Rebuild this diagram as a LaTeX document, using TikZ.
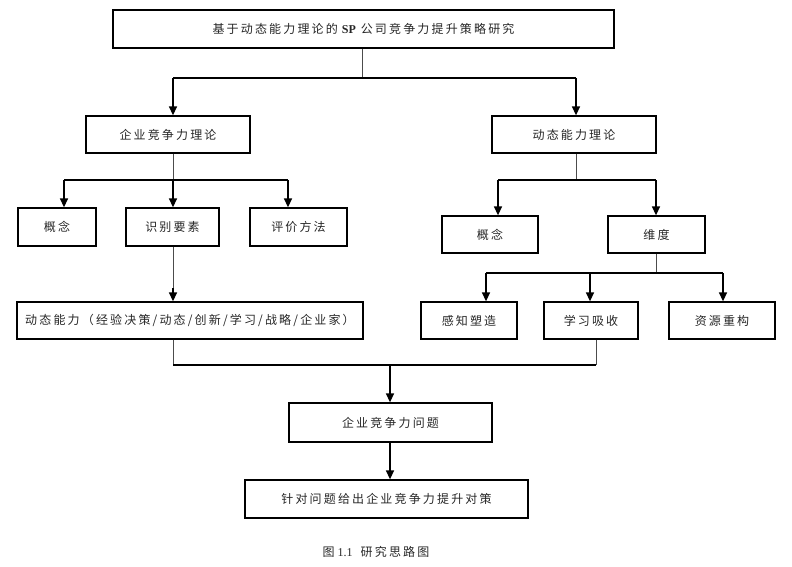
\documentclass[tikz,border=0pt]{standalone}
\usepackage{fontspec}
\setmainfont{Liberation Serif}
\newfontfamily\cjk[LetterSpace=18]{Noto Sans CJK SC}
\usetikzlibrary{arrows.meta}
\begin{document}
\begin{tikzpicture}[x=1pt,y=1pt,
  box/.style={draw=black, line width=1.3pt, inner sep=0pt, font=\fontsize{12}{14}\cjk, text=black!85},
  stem/.style={draw=black!70, line width=1pt},
  bar/.style={draw=black, line width=1.7pt},
  arr/.style={draw=black, line width=1.4pt, -{Triangle[length=9pt,width=8pt]}}]
\useasboundingbox (0,0) rectangle (792,-567);
% boxes
\node[box, line width=1.8pt, minimum width=501, minimum height=38] (top) at (363.5,-29) {基于动态能力理论的\hspace{4pt}{\fontspec{Liberation Serif}\bfseries SP}\hspace{5pt}公司竞争力提升策略研究};
\node[box, minimum width=164, minimum height=37] (qj) at (168,-134.5) {企业竞争力理论};
\node[box, minimum width=164, minimum height=37] (dt) at (574,-134.5) {动态能力理论};
\node[box, minimum width=78, minimum height=38] (gn1) at (57,-227) {概念};
\node[box, minimum width=93, minimum height=38] (sb) at (172.5,-227) {识别要素};
\node[box, minimum width=97, minimum height=38] (pj) at (298.5,-227) {评价方法};
\node[box, minimum width=96, minimum height=37] (gn2) at (490,-234.5) {概念};
\node[box, minimum width=97, minimum height=37] (wd) at (656.5,-234.5) {维度};
\node[box, minimum width=96, minimum height=37] (gz) at (469,-320.5) {感知塑造};
\node[box, minimum width=94, minimum height=37] (xx) at (591,-320.5) {学习吸收};
\node[box, minimum width=106, minimum height=37] (zy) at (722,-320.5) {资源重构};
\node[box, minimum width=346, minimum height=37] (dn) at (190,-320.5) {动态能力（经验决策/动态/创新/学习/战略/企业家）};
\node[box, minimum width=203, minimum height=39] (wt) at (390.5,-422.5) {企业竞争力问题};
\node[box, minimum width=283, minimum height=38] (dc) at (386.5,-499) {针对问题给出企业竞争力提升对策};
\node[font=\fontsize{12}{14}\selectfont, text=black!85] (cap) at (376,-552) {{\cjk 图}\hspace{3pt}1.1\hspace{8pt}{\cjk 研究思路图}};
% junction coordinates
\coordinate (a1) at (173,-78);  \coordinate (a2) at (576,-78);
\coordinate (b1) at (64,-180);  \coordinate (b2) at (173,-180); \coordinate (b3) at (288,-180);
\coordinate (c1) at (498,-180); \coordinate (c2) at (576,-180); \coordinate (c3) at (656,-180);
\coordinate (d1) at (486,-273); \coordinate (d2) at (590,-273); \coordinate (d3) at (656,-273); \coordinate (d4) at (723,-273);
\coordinate (e1) at (173,-365); \coordinate (e2) at (390,-365); \coordinate (e3) at (596,-365);
% level 1
\draw[stem] (top.south -| 362,0) -- (362,-78);
\draw[bar] (a1) -- (a2);
\draw[arr] (a1) -- (a1 |- qj.north);
\draw[arr] (a2) -- (a2 |- dt.north);
% level 2 left
\draw[stem] (b2 |- qj.south) -- (b2);
\draw[bar] (b1) -- (b3);
\draw[arr] (b1) -- (b1 |- gn1.north);
\draw[arr] (b2) -- (b2 |- sb.north);
\draw[arr] (b3) -- (b3 |- pj.north);
% level 2 right
\draw[stem] (c2 |- dt.south) -- (c2);
\draw[bar] (c1) -- (c3);
\draw[arr] (c1) -- (c1 |- gn2.north);
\draw[arr] (c3) -- (c3 |- wd.north);
% level 3 right
\draw[stem] (d3 |- wd.south) -- (d3);
\draw[bar] (d1) -- (d4);
\draw[arr] (d1) -- (d1 |- gz.north);
\draw[arr] (d2) -- (d2 |- xx.north);
\draw[arr] (d4) -- (d4 |- zy.north);
% left down
\draw[stem] (b2 |- sb.south) -- (b2 |- 0,-288);
\draw[arr] (b2 |- 0,-288) -- (b2 |- dn.north);
% merge
\draw[stem] (e1 |- dn.south) -- (e1);
\draw[stem] (e3 |- xx.south) -- (e3);
\draw[bar] (e1) -- (e3);
\draw[arr] (e2) -- (e2 |- wt.north);
\draw[arr] (e2 |- wt.south) -- (e2 |- dc.north);
\end{tikzpicture}
\end{document}
